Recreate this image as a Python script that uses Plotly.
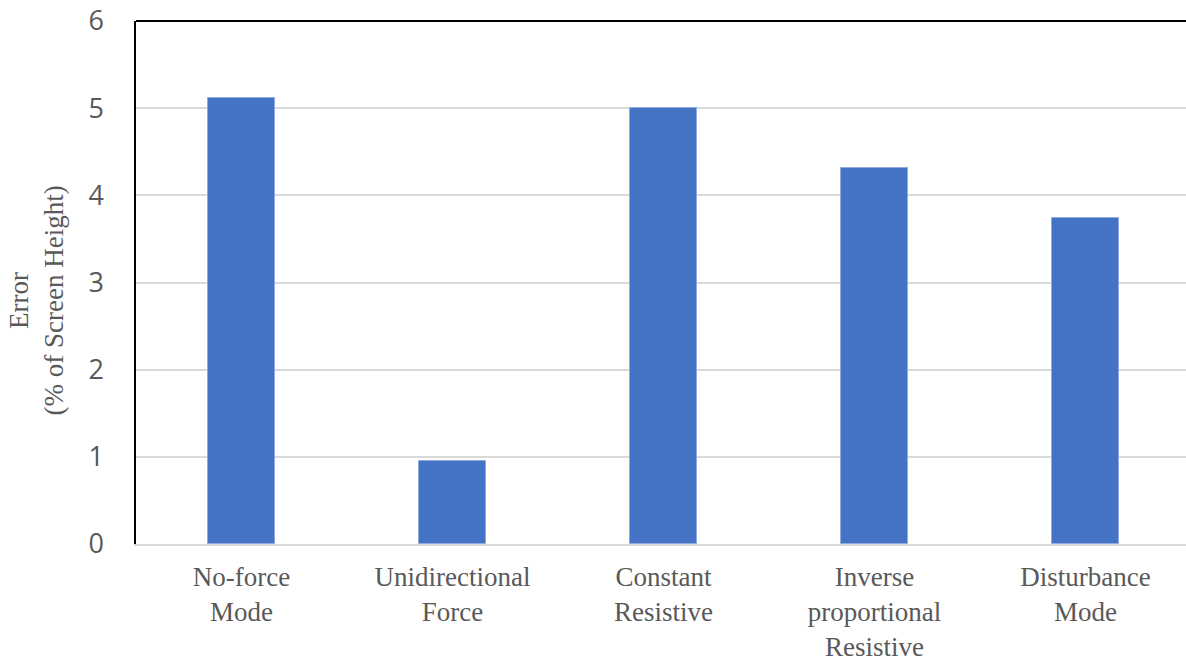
import plotly.graph_objects as go

# Mean error per force-feedback condition
categories = [
    "No-force<br>Mode",
    "Unidirectional<br>Force",
    "Constant<br>Resistive",
    "Inverse<br>proportional<br>Resistive",
    "Disturbance<br>Mode",
]
error_pct = [5.12, 0.95, 5.0, 4.31, 3.74]
y_ticks = [0, 1, 2, 3, 4, 5, 6]

BAR_BLUE = "#4472C4"
TEXT_GREY = "#595959"
GRID_GREY = "#D9D9D9"
SERIF = "Liberation Serif, Times New Roman, serif"

fig = go.Figure(
    go.Bar(
        x=list(range(len(categories))),
        y=error_pct,
        width=0.315,
        marker=dict(color=BAR_BLUE, line=dict(color="#8FAADC", width=1)),
        hoverinfo="skip",
    )
)

fig.update_layout(
    width=1186,
    height=662,
    margin=dict(l=136, r=0, t=21, b=118, autoexpand=False),
    paper_bgcolor="white",
    plot_bgcolor="white",
    showlegend=False,
    bargap=0,
    xaxis=dict(
        range=[-0.5, 4.476],
        automargin=False,
        tickmode="array",
        tickvals=list(range(len(categories))),
        ticktext=categories,
        tickangle=0,
        showgrid=False,
        zeroline=False,
        showline=True,
        linecolor=GRID_GREY,
        linewidth=1.5,
        ticks="",
        ticklabelstandoff=8,
        tickfont=dict(family=SERIF, size=27, color=TEXT_GREY),
    ),
    yaxis=dict(
        range=[0, 6],
        automargin=False,
        tickmode="array",
        tickvals=y_ticks,
        ticktext=[str(v) for v in y_ticks],
        showgrid=True,
        gridcolor=GRID_GREY,
        gridwidth=1.5,
        zeroline=False,
        showline=True,
        linecolor="black",
        linewidth=1.5,
        ticks="",
        ticklabelstandoff=25,
        tickfont=dict(family="Open Sans, sans-serif", size=27, color=TEXT_GREY),
    ),
    shapes=[
        dict(
            type="line", xref="paper", yref="paper",
            x0=0, x1=1, y0=1, y1=1,
            line=dict(color="black", width=2),
        )
    ],
    annotations=[
        dict(
            text="Error<br>(% of Screen Height)",
            xref="paper", yref="paper",
            x=-0.095, y=0.466,
            xanchor="center", yanchor="middle",
            textangle=-90,
            showarrow=False,
            font=dict(family=SERIF, size=27, color=TEXT_GREY),
        )
    ],
)

fig.write_html("out.html")
